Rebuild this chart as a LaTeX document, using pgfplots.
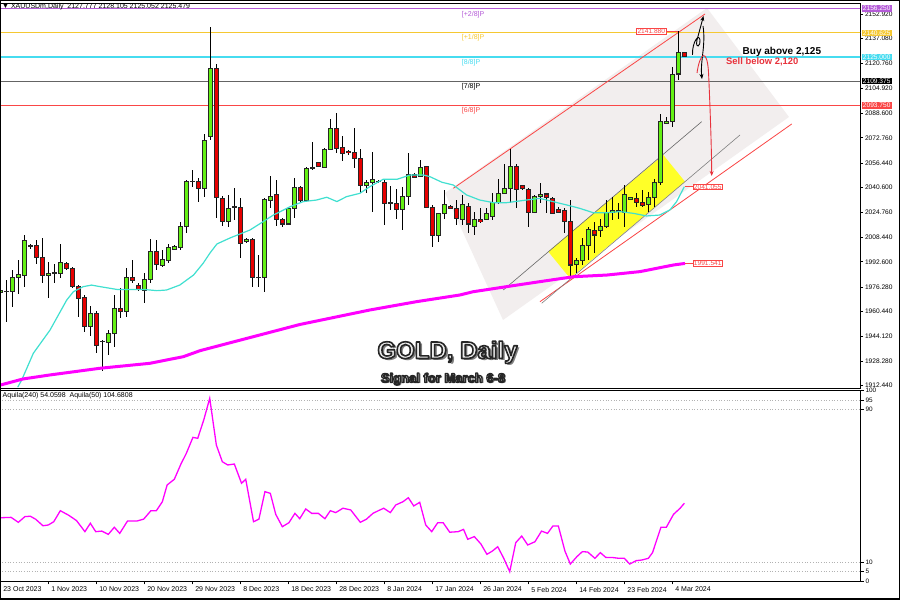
\documentclass[border=0pt]{standalone}
\usepackage{fontspec}
\setmainfont{Liberation Sans}
\usepackage{pgfplots}
\pgfplotsset{compat=1.18}
\usepackage{pgfplotstable}
\usetikzlibrary{arrows.meta}

\definecolor{mmPurple}{RGB}{180,90,215}
\definecolor{mmGold}{RGB}{245,200,50}
\definecolor{mmCyan}{RGB}{70,220,240}
\definecolor{mmGray}{RGB}{100,100,100}
\definecolor{mmRed}{RGB}{250,70,70}
\definecolor{cGreen}{RGB}{100,240,20}
\definecolor{cRed}{RGB}{230,0,0}
\definecolor{maCyan}{RGB}{64,224,208}
\definecolor{maMag}{RGB}{255,0,255}
\definecolor{shade}{RGB}{242,238,238}
\definecolor{hiYel}{RGB}{255,255,40}
\definecolor{sellRed}{RGB}{232,50,60}

\newcommand\outlined[2]{\special{pdf:literal direct q 2 Tr #1 w 0.15 0.15 0.15 RG 1 j}#2\special{pdf:literal direct Q}}

\pgfplotstableread{
k O H L C
0 1973.0 1976.0 1970.0 1974.0
1 1973.2 1980.8 1953.8 1973.6
2 1973.2 1987.2 1963.1 1982.5
3 1982.5 1993.7 1971.7 1984.4
4 1984.0 2009.9 1976.5 2006.2
5 2002.5 2004.0 2001.0 2003.0
6 2002.8 2006.7 1991.1 1995.4
7 1995.4 2007.7 1978.6 1983.6
8 1984.0 1992.2 1969.3 1985.1
9 1985.1 1991.0 1978.6 1985.4
10 1985.1 2004.1 1981.9 1992.2
11 1991.6 1992.2 1987.2 1988.3
12 1988.3 1989.0 1975.4 1976.5
13 1976.5 1977.6 1957.1 1968.9
14 1969.3 1971.1 1947.4 1950.6
15 1950.6 1964.0 1944.6 1959.2
16 1959.2 1960.7 1933.3 1938.7
17 1940.9 1942.0 1922.1 1941.3
18 1940.4 1948.4 1932.3 1946.3
19 1946.3 1971.1 1937.7 1962.4
20 1962.4 1975.4 1956.0 1960.3
21 1960.3 1988.3 1956.6 1982.5
22 1982.5 1993.7 1978.6 1980.8
23 1977.5 1978.6 1973.9 1974.7
24 1974.3 1985.1 1965.7 1981.2
25 1981.2 2007.1 1978.6 1999.1
26 1999.1 2006.7 1987.2 1990.5
27 1990.1 2000.2 1989.0 1994.1
28 1993.7 2004.1 1991.6 2001.9
29 2000.6 2003.4 2000.2 2002.3
30 2001.7 2018.5 2000.2 2015.3
31 2015.3 2045.4 2011.0 2044.4
32 2044.4 2051.9 2041.2 2044.7
33 2044.4 2046.5 2031.4 2040.1
34 2040.1 2075.2 2034.7 2071.3
35 2073.5 2144.6 2071.3 2117.7
36 2117.7 2120.5 2020.7 2034.0
37 2033.6 2035.1 2015.7 2018.5
38 2018.5 2035.7 2015.0 2027.1
39 2027.8 2040.1 2019.6 2028.0
40 2027.8 2033.6 1994.8 2004.1
41 2005.6 2007.8 2004.5 2007.1
42 2007.1 2007.7 1976.5 1982.5
43 1982.3 1997.0 1976.5 1982.7
44 1982.5 2033.6 1973.3 2033.0
45 2032.5 2048.1 2027.1 2035.1
46 2035.8 2045.5 2015.7 2019.6
47 2019.6 2020.7 2015.3 2017.0
48 2017.0 2028.2 2016.4 2027.1
49 2027.1 2046.5 2020.7 2040.7
50 2040.7 2041.6 2031.5 2032.1
51 2032.1 2053.7 2031.5 2052.6
52 2053.0 2070.2 2051.9 2053.3
53 2056.9 2057.3 2054.1 2054.5
54 2053.7 2066.0 2053.0 2065.3
55 2065.3 2084.7 2064.9 2078.9
56 2078.9 2088.6 2062.7 2065.9
57 2066.6 2073.9 2058.0 2062.7
58 2064.2 2064.9 2061.6 2063.1
59 2063.4 2078.9 2053.0 2059.5
60 2059.5 2065.3 2037.3 2042.2
61 2042.2 2045.5 2036.9 2043.9
62 2043.9 2063.8 2025.0 2045.5
63 2044.4 2045.5 2043.3 2044.6
64 2043.9 2045.5 2016.4 2030.4
65 2030.4 2041.6 2026.1 2030.6
66 2030.4 2039.4 2020.0 2026.5
67 2026.5 2041.2 2013.1 2034.7
68 2034.7 2062.7 2029.3 2048.7
69 2048.7 2049.8 2046.5 2047.2
70 2048.0 2058.4 2047.2 2053.7
71 2054.1 2054.5 2027.1 2027.8
72 2027.8 2029.3 2001.9 2009.5
73 2009.5 2024.3 2005.6 2023.5
74 2023.5 2039.0 2020.0 2029.3
75 2028.6 2029.3 2026.5 2027.1
76 2027.1 2032.5 2016.4 2020.7
77 2020.2 2035.8 2016.4 2029.3
78 2028.6 2030.4 2011.0 2017.0
79 2015.7 2025.0 2009.9 2020.0
80 2020.0 2027.1 2017.4 2018.5
81 2020.0 2027.1 2019.6 2023.9
82 2021.7 2037.3 2019.6 2030.8
83 2030.8 2045.9 2029.9 2036.9
84 2036.9 2055.8 2036.2 2040.1
85 2040.1 2065.3 2030.8 2054.5
86 2054.5 2055.8 2027.1 2039.4
87 2041.6 2042.2 2039.0 2040.1
88 2039.0 2040.1 2014.9 2024.6
89 2024.6 2035.8 2024.0 2035.1
90 2035.1 2043.7 2030.4 2036.4
91 2036.4 2037.3 2023.9 2034.2
92 2033.6 2034.2 2023.5 2023.9
93 2026.5 2028.2 2023.9 2024.3
94 2025.6 2027.1 2011.0 2018.5
95 2018.5 2032.5 1983.0 1990.5
96 1991.1 1994.8 1985.1 1993.7
97 1993.7 2007.7 1990.5 2002.8
98 2002.8 2014.9 1993.7 2013.6
99 2012.7 2018.5 1998.0 2009.9
100 2012.7 2020.0 2008.8 2015.7
101 2015.7 2032.5 2014.2 2024.3
102 2024.3 2034.2 2019.6 2025.6
103 2025.0 2030.8 2020.0 2025.6
104 2024.3 2042.2 2015.3 2035.8
105 2033.0 2034.7 2032.9 2034.2
106 2033.6 2036.8 2028.2 2030.8
107 2030.8 2039.0 2028.2 2029.3
108 2029.9 2037.9 2025.0 2034.2
109 2034.2 2045.9 2027.8 2043.7
110 2043.7 2088.2 2042.2 2083.2
111 2082.1 2086.0 2081.7 2083.2
112 2083.2 2118.3 2079.5 2114.0
113 2114.0 2141.88 2110.1 2127.8
114 2127.777 2128.105 2125.052 2125.479
}\candles

\pgfplotstableread{
k P
2.9 1911.5
3.56 1916.1
5.5 1933.4
8.28 1948.4
11.06 1967.8
12.17 1973.2
13.83 1976.5
15.22 1977.5
16.6 1976.5
19.4 1974.7
23.8 1974.7
26.1 1973.9
27.7 1974.3
29.9 1977.5
32.2 1984.0
33.8 1991.6
34.9 1998.0
36.1 2004.1
38.3 2008.0
41.6 2013.1
43.8 2018.5
45.5 2022.8
48.3 2028.2
50.5 2031.5
52.7 2032.5
54.4 2034.3
56.1 2031.5
57.7 2034.7
59.9 2036.8
61.6 2041.2
63.8 2045.9
66.1 2045.9
68.3 2048.7
70.5 2048.7
71.6 2047.6
73.6 2044.0
75.5 2042.2
77.7 2035.8
79.9 2032.5
82.2 2030.8
84.4 2030.8
87.7 2032.5
89.9 2033.6
92.2 2031.4
94.4 2029.3
96.6 2027.1
98.8 2024.3
101.1 2024.3
103.3 2025.0
105.5 2023.9
107.7 2022.2
109.9 2022.8
111.6 2026.1
112.7 2031.4
114.0 2041.1
}\smaFast

\pgfplotstableread{
k P
-0.05 1912.8
3.8 1916.8
8.3 1919.4
16.6 1923.7
24.9 1926.9
30.5 1931.2
33.3 1935.1
38.3 1940.2
49.9 1952.0
61.6 1961.4
69.4 1966.8
76.6 1971.1
78.8 1973.2
84.4 1976.5
89.9 1979.7
95.5 1982.9
101.1 1984.0
106.6 1986.2
112.2 1990.5
114.1 1991.5
}\smaSlow

\pgfplotstableread{
k v
0 33.2
1.8 33.4
3.0 30.8
4.1 33.8
5.0 34.0
5.9 32.4
7.1 29.0
8.0 29.4
8.9 31.1
10.0 36.9
11.4 34.5
12.7 31.7
14.1 25.9
15.0 30.3
15.9 25.9
16.9 26.2
18.0 24.5
19.0 28.2
19.9 25.0
21.2 31.5
22.8 31.5
23.9 32.5
25.1 36.9
26.0 36.9
27.0 41.6
27.8 50.4
29.0 53.4
30.1 61.4
31.0 67.0
32.1 75.4
32.9 74.9
33.9 84.5
34.9 95.9
36.0 71.4
37.0 62.6
37.9 60.9
39.0 61.4
40.2 51.3
40.9 53.4
42.2 31.1
43.1 32.5
44.1 46.9
45.0 46.0
45.9 35.0
47.0 28.5
48.1 30.6
49.1 35.5
49.9 32.7
50.9 37.8
51.9 35.5
53.0 35.5
54.1 32.7
55.0 36.9
55.9 35.9
57.1 38.2
58.4 37.3
60.0 30.8
61.0 32.4
62.1 35.5
63.0 36.9
63.9 38.2
65.0 35.9
65.9 39.9
67.1 41.6
68.0 43.7
68.9 39.4
69.9 41.3
70.9 29.4
71.9 25.9
72.9 30.6
73.8 30.6
74.9 25.6
76.3 25.9
77.2 27.1
77.9 21.9
79.0 23.3
80.1 19.4
81.1 14.0
82.0 15.7
82.9 18.0
83.9 11.9
84.9 4.9
85.9 20.1
86.9 23.6
87.9 18.9
89.1 20.6
90.2 26.2
91.2 25.0
92.1 28.9
93.0 28.9
94.1 15.7
95.0 8.9
96.1 12.8
97.0 15.4
97.9 15.2
99.1 11.9
100.0 14.9
100.9 12.4
102.1 12.3
103.1 11.9
104.0 11.9
104.9 8.9
106.0 10.7
106.9 11.0
108.0 11.9
108.7 14.9
110.1 28.2
111.0 28.2
112.2 35.0
113.3 38.2
114.0 40.8
}\osc

\newcommand\tickfont{\fontsize{6.6bp}{7bp}\selectfont}
\newcommand\smallfont{\fontsize{7bp}{8bp}\selectfont}

\pgfplotsset{
  candle/.style={draw=none, mark=none, forget plot,
    error bars/y dir=both, error bars/y explicit, error bars/error mark=none},
  mt4axis/.style={
    scale only axis, clip mode=individual,
    xmin=-0.055, xmax=143.28,
    axis line style={black, line width=0.8bp},
    tick style={black, line width=0.6bp},
    tick align=outside, major tick length=3bp,
    ytick pos=right, yticklabel pos=right,
    /pgf/number format/assume math mode=true,
    tick label style={font=\tickfont, text=black},
  },
}

\begin{document}
\begin{tikzpicture}[x=1bp,y=1bp]
\path[use as bounding box] (0,0) rectangle (900,600);
\fill[white] (0,0) rectangle (900,600);

% ---------------- main price panel ----------------
\begin{axis}[mt4axis, name=main,
  at={(0bp,212bp)}, anchor=south west,
  width=860bp, height=385bp,
  ymin=1910.95, ymax=2159.93,
  xtick=\empty,
  ytick={1912.44,1928.28,1944.12,1960.44,1976.28,1992.60,2008.44,2024.76,2040.60,2056.44,2072.76,2088.60,2104.92,2120.76,2137.08,2152.92},
  scaled y ticks=false,
  yticklabel style={/pgf/number format/fixed, /pgf/number format/fixed zerofill,
    /pgf/number format/precision=3, /pgf/number format/1000 sep={}, anchor=west, xshift=-1.5bp},
]
% background shapes
\addplot[fill=shade, draw=none, forget plot] coordinates {(74.11,2037.06) (117.78,2156.70) (131.44,2086.21) (83.78,1954.93)} --cycle;
\addplot[fill=hiYel, draw=none, forget plot] coordinates {(91.33,1999.09) (94.95,1981.89) (114.11,2044.37) (110.5,2061.63)} --cycle;

% Murrey math levels
\addplot[mmPurple, line width=1.3bp, forget plot] coordinates {(-1,2156.25) (144,2156.25)};
\addplot[mmGold, line width=1bp, forget plot] coordinates {(-1,2140.625) (144,2140.625)};
\addplot[mmCyan, line width=1.3bp, forget plot] coordinates {(-1,2125.0) (144,2125.0)};
\addplot[mmGray, line width=1.2bp, forget plot] coordinates {(-1,2109.375) (144,2109.375)};
\addplot[mmRed, line width=1bp, forget plot] coordinates {(-1,2093.75) (144,2093.75)};

% channel lines
\addplot[mmRed, line width=0.8bp, forget plot] coordinates {(75.50,2040.10) (117.45,2152.82)};
\addplot[mmRed, line width=0.8bp, forget plot] coordinates {(89.94,1966.76) (131.9,2081.68)};
\addplot[black!60, line width=0.6bp, forget plot] coordinates {(83.83,1974.33) (116.89,2083.17)};
\addplot[black!50, line width=0.6bp, forget plot] coordinates {(90.23,1965.73) (123.28,2074.57)};

% candles: wicks
\addplot[candle, error bars/error bar style={draw=black, line width=0.9bp}]
  table[x=k, y expr={(\thisrow{H}+\thisrow{L})/2}, y error expr={(\thisrow{H}-\thisrow{L})/2}]{\candles};
% body outline
\addplot[candle, error bars/error bar style={draw=black!85, line width=4.6bp}]
  table[x=k, y expr={(\thisrow{O}+\thisrow{C})/2}, y error expr={abs(\thisrow{C}-\thisrow{O})/2+0.33}]{\candles};
% bullish bodies
\addplot[restrict y to domain=1800:2300, candle, error bars/error bar style={draw=cGreen, line width=2.8bp}]
  table[x=k, y expr={ifthenelse(\thisrow{C}>=\thisrow{O},(\thisrow{O}+\thisrow{C})/2,0)}, y error expr={max(abs(\thisrow{C}-\thisrow{O})/2-0.33,0)}]{\candles};
% bearish bodies
\addplot[restrict y to domain=1800:2300, candle, error bars/error bar style={draw=cRed, line width=2.8bp}]
  table[x=k, y expr={ifthenelse(\thisrow{C}<\thisrow{O},(\thisrow{O}+\thisrow{C})/2,0)}, y error expr={max(abs(\thisrow{C}-\thisrow{O})/2-0.33,0)}]{\candles};

% moving averages
\addplot[maCyan, line width=1.2bp, forget plot] table[x=k, y=P]{\smaFast};
\addplot[maMag, line width=3bp, forget plot] table[x=k, y=P]{\smaSlow};

% level labels
\node[anchor=west, text=mmPurple, font=\smallfont, inner sep=0pt] at (axis cs:76.9,2156.25) [yshift=-6.5bp] {[+2/8]P};
\node[anchor=west, text=mmGold, font=\smallfont, inner sep=0pt] at (axis cs:76.9,2140.625) [yshift=-5bp] {[+1/8]P};
\node[anchor=west, text=mmCyan, font=\smallfont, inner sep=0pt] at (axis cs:76.9,2125.0) [yshift=-5.5bp] {[8/8]P};
\node[anchor=west, text=black, font=\smallfont, inner sep=0pt] at (axis cs:76.9,2109.375) [yshift=-6bp] {[7/8]P};
\node[anchor=west, text=mmRed, font=\smallfont, inner sep=0pt] at (axis cs:76.9,2093.75) [yshift=-5bp] {[6/8]P};

% right price boxes
\node[anchor=west, fill=mmPurple, text=white, font=\tickfont, inner xsep=1.2bp, inner ysep=0.9bp] at (axis cs:143.28,2156.25) [xshift=1.5bp] {2156.250};
\node[anchor=west, fill=mmGold, text=white, font=\tickfont, inner xsep=1.2bp, inner ysep=0.9bp] at (axis cs:143.28,2140.625) [xshift=1.5bp] {2140.625};
\node[anchor=west, fill=mmCyan, text=white, font=\tickfont, inner xsep=1.2bp, inner ysep=0.9bp] at (axis cs:143.28,2125.0) [xshift=1.5bp] {2125.000};
\node[anchor=west, fill=black, text=white, font=\tickfont, inner xsep=1.2bp, inner ysep=0.9bp] at (axis cs:143.28,2109.375) [xshift=1.5bp] {2109.375};
\node[anchor=west, fill=mmRed, text=white, font=\tickfont, inner xsep=1.2bp, inner ysep=0.9bp] at (axis cs:143.28,2093.75) [xshift=1.5bp] {2093.750};

% price tag boxes
\draw[mmRed, line width=0.5bp] (axis cs:111.0,2141.88) -- (axis cs:113.0,2141.88);
\node[anchor=east, draw=mmRed, fill=white, text=mmRed, font=\tickfont, inner xsep=1bp, inner ysep=0.6bp, line width=0.5bp] at (axis cs:111.0,2141.88) {2141.880};
\draw[mmRed, line width=0.5bp] (axis cs:114.1,2041.1) -- (axis cs:115.4,2041.1);
\node[anchor=west, draw=mmRed, fill=white, text=mmRed, font=\tickfont, inner xsep=1bp, inner ysep=0.6bp, line width=0.5bp] at (axis cs:115.4,2041.1) {2041.055};
\draw[mmRed, line width=0.5bp] (axis cs:114.1,1991.5) -- (axis cs:115.4,1991.5);
\node[anchor=west, draw=mmRed, fill=white, text=mmRed, font=\tickfont, inner xsep=1bp, inner ysep=0.6bp, line width=0.5bp] at (axis cs:115.4,1991.5) {1991.541};
\end{axis}

% ---------------- oscillator panel ----------------
\begin{axis}[mt4axis, name=osc,
  at={(0bp,19bp)}, anchor=south west,
  width=860bp, height=190.5bp,
  ymin=0, ymax=100,
  ytick={0,5,10,90,95,100},
  xtick={0,8,16,24,32,40,48,56,64,72,80,88,96,104,112},
  xticklabels={23 Oct 2023,1 Nov 2023,10 Nov 2023,20 Nov 2023,29 Nov 2023,8 Dec 2023,18 Dec 2023,28 Dec 2023,8 Jan 2024,17 Jan 2024,26 Jan 2024,5 Feb 2024,14 Feb 2024,23 Feb 2024,4 Mar 2024},
  xtick pos=bottom, xticklabel pos=bottom,
  major tick length=3.5bp,
  xticklabel style={anchor=north west, font=\smallfont, xshift=-0.5bp, yshift=1bp},
  yticklabel style={anchor=west, xshift=-1.5bp, font=\fontsize{6.4bp}{7bp}\selectfont},
]
\addplot[gray!60, dotted, line width=0.7bp, forget plot] coordinates {(-1,5) (144,5)};
\addplot[gray!60, dotted, line width=0.7bp, forget plot] coordinates {(-1,10) (144,10)};
\addplot[gray!60, dotted, line width=0.7bp, forget plot] coordinates {(-1,90) (144,90)};
\addplot[gray!60, dotted, line width=0.7bp, forget plot] coordinates {(-1,95) (144,95)};
\addplot[maMag, line width=1.3bp] table[x=k, y=v]{\osc};
\end{axis}

% ---------------- annotations (pixel coordinates) ----------------
\begin{scope}[shift={(0bp,600bp)}, x=1bp, y=-1bp]
  \node[anchor=west, font=\smallfont, inner sep=0pt] at (2,7) {▼ XAUUSDm,Daily\ \ 2127.777 2128.105 2125.052 2125.479};
  \node[anchor=west, font=\smallfont, inner sep=0pt] at (2.5,396) {Aquila(240) 54.0598\ \ Aquila(50) 104.6808};

  \node[anchor=west, font=\fontsize{10bp}{12bp}\selectfont\bfseries, inner sep=0pt] at (742.5,51.7) {Buy above 2,125};
  \node[anchor=west, font=\fontsize{9.4bp}{11bp}\selectfont\bfseries, text=sellRed, inner sep=0pt] at (726,61.7) {Sell below 2,120};

  % hand drawn arrows
  \draw[black, line width=0.9bp, -{Stealth[length=5bp,width=4bp]}] (692.5,55) .. controls (692,42) and (699,33) .. (700,40) .. controls (701,46) and (695,50) .. (697,40) -- (703.5,16);
  \draw[black, line width=0.9bp, -{Stealth[length=5bp,width=4bp]}] (703,26) .. controls (706,45) and (700,62) .. (702,79);
  \draw[sellRed, line width=0.9bp, -{Stealth[length=5bp,width=4bp]}] (697,73) .. controls (700,52) and (707,48) .. (708.5,72) .. controls (710,105) and (711.5,145) .. (711.7,176);

  % title texts: drop shadow, then outlined light text
  \node[anchor=base, font=\fontsize{24bp}{26bp}\selectfont\bfseries, text=black!50, inner sep=0pt] at (449.8,361) {GOLD, Daily};
  \node[anchor=base, font=\fontsize{24bp}{26bp}\selectfont\bfseries, text=white!93!black, inner sep=0pt] at (447.5,358.5) {\outlined{1.6}{GOLD, Daily}};
  \node[anchor=base, font=\fontsize{13bp}{16bp}\selectfont\bfseries, text=black!50, inner sep=0pt] at (444.5,384) {Signal for March 6-8};
  \node[anchor=base, font=\fontsize{13bp}{16bp}\selectfont\bfseries, text=white!93!black, inner sep=0pt] at (443,382.5) {\outlined{1.3}{Signal for March 6-8}};

  \draw[black, line width=1.5bp] (0.75,0.75) rectangle (899.25,599.25);
\end{scope}
\end{tikzpicture}
\end{document}
